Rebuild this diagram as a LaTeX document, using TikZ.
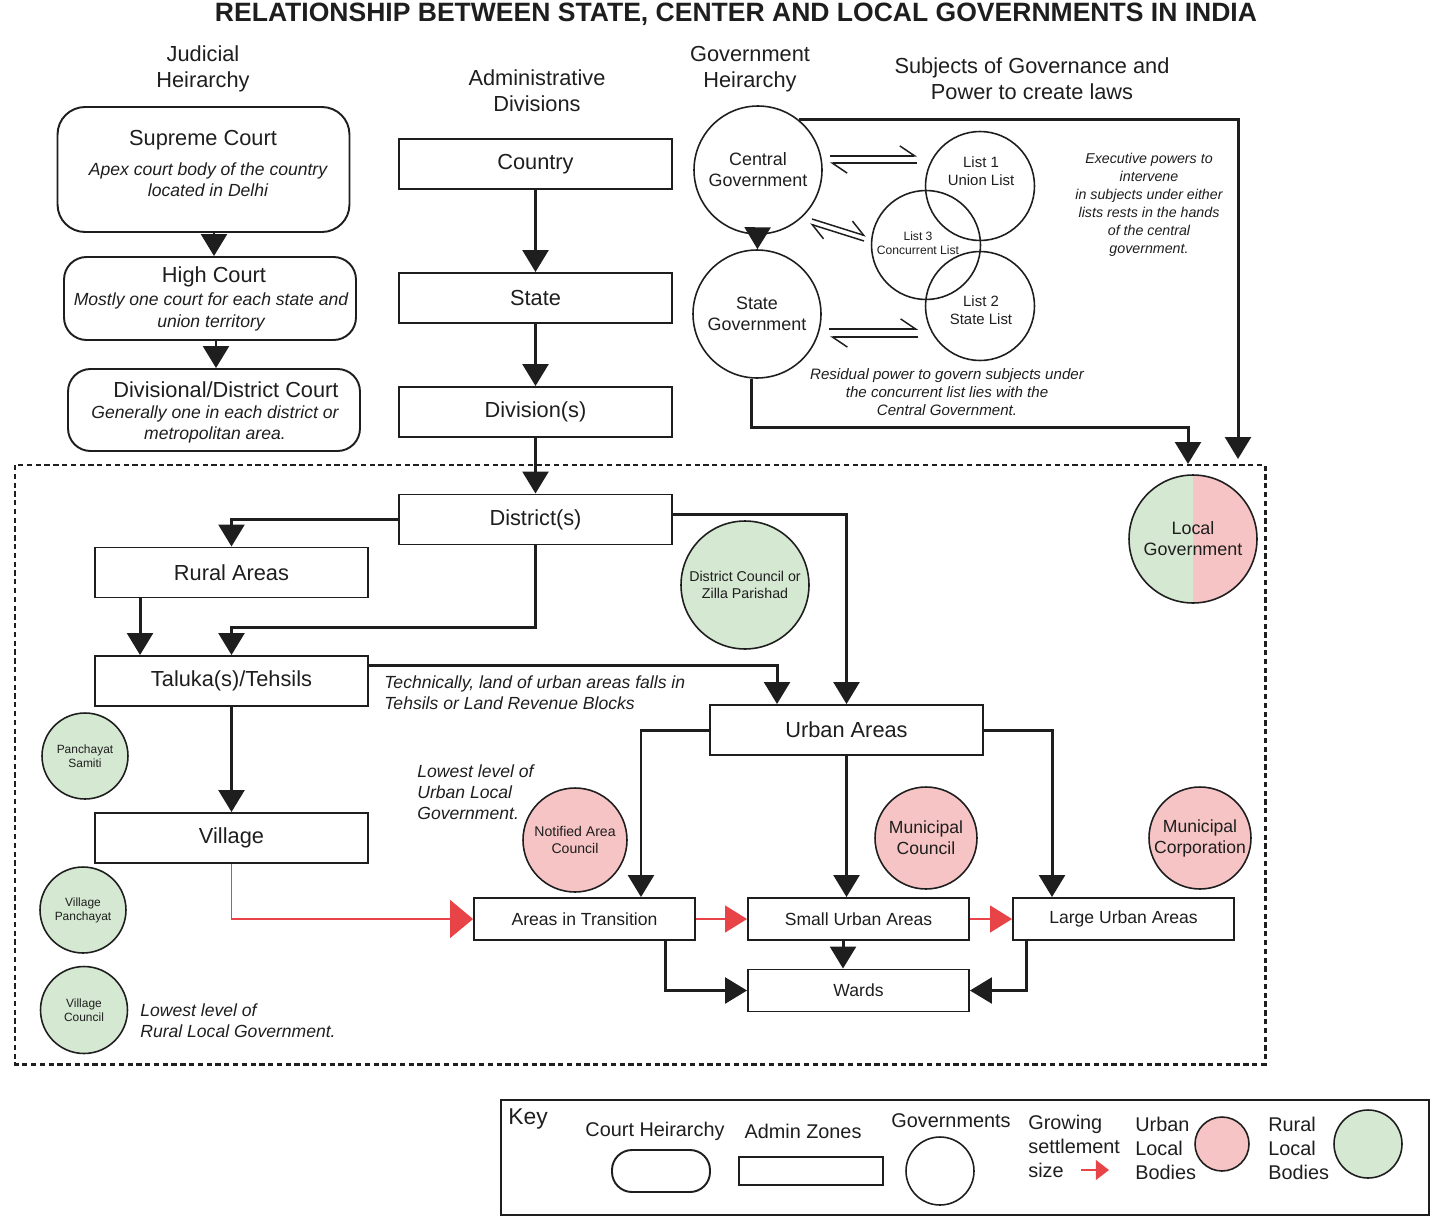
\documentclass[tikz,border=0pt]{standalone}
\usepackage{fontspec}
\setmainfont{Liberation Sans}
\usetikzlibrary{arrows.meta,calc}
\definecolor{ink}{RGB}{30,30,30}
\definecolor{upink}{RGB}{246,196,196}
\definecolor{rgreen}{RGB}{213,232,210}
\definecolor{growred}{RGB}{232,68,72}
\tikzset{
	hdr/.style = {align=center, font=\fontsize{12.4}{14.7}\selectfont},
	lbl/.style = {font=\fontsize{12.4}{14}\selectfont},
	note/.style = {align=center, font=\fontsize{10}{11.9}\selectfont\itshape},
	keytxt/.style = {inner sep=0pt, font=\fontsize{11.3}{13.6}\selectfont},
	listtxt/.style = {align=center, inner sep=0pt, font=\fontsize{8.5}{10.2}\selectfont},
	adminbox/.style = {draw=ink, line width=1.1pt, minimum width=5.46cm, minimum height=1cm, font=\fontsize{12.4}{14}\selectfont},
	zonebox/.style = {draw=ink, line width=1.1pt, minimum width=4.42cm, minimum height=0.84cm, font=\fontsize{10}{11}\selectfont},
	courtbox/.style = {draw=ink, line width=1.1pt, rounded corners=0.45cm, minimum width=5.84cm},
	govcirc/.style = {circle, draw=ink, line width=0.9pt, minimum size=2.56cm, inner sep=0pt, align=center, font=\fontsize{10.2}{11.9}\selectfont},
	listcirc/.style = {circle, draw=ink, line width=0.9pt, minimum size=2.18cm, inner sep=0pt},
	rlb/.style = {circle, draw=ink, line width=0.9pt, fill=rgreen, inner sep=0pt, align=center},
	ulb/.style = {circle, draw=ink, line width=0.9pt, fill=upink, inner sep=0pt, align=center},
	flow/.style = {draw=ink, line width=1.7pt, -{Triangle[width=14.7pt,length=12.5pt]}},
	growarrow/.style = {draw=growred, line width=0.85pt, -{Triangle[width=15.3pt,length=12.5pt]}},
	harp/.style = {draw=ink, line width=0.85pt, -{Straight Barb[harpoon,length=8.5pt,width=11.5pt]}}
}
\begin{document}
\begin{tikzpicture}[x=0.02cm, y=-0.02cm, text=ink]
	\useasboundingbox (0,0) rectangle (1430,1217);
	\node[font=\fontsize{15.1}{17}\selectfont\bfseries] (title) at (736,14) {RELATIONSHIP BETWEEN STATE, CENTER AND LOCAL GOVERNMENTS IN INDIA};
	\node[hdr] (hjud) at (203,69) {Judicial\\Heirarchy};
	\node[hdr] (hadm) at (537,91) {Administrative\\Divisions};
	\node[hdr] (hgov) at (750,69) {Government\\Heirarchy};
	\node[hdr] (hsub) at (1032,79) {Subjects of Governance and\\Power to create laws};
	% courts
	\node[courtbox, minimum height=2.5cm, rounded corners=0.55cm] (csup) at (203.5,169.5) {};
	\node[lbl] (csuptxt) at (203,140) {Supreme Court};
	\node[note] (csupnote) at (208,180) {Apex court body of the country\\located in Delhi};
	\node[courtbox, minimum height=1.66cm] (chigh) at (210,298.5) {};
	\node[lbl] (chightxt) at (214,277) {High Court};
	\node[note, font=\fontsize{10}{12.5}\selectfont\itshape] (chighnote) at (211,312) {Mostly one court for each state and\\union territory};
	\node[courtbox, minimum height=1.64cm] (cdist) at (214,410) {};
	\node[lbl] (cdisttxt) at (226,390) {Divisional/District Court};
	\node[note] (cdistnote) at (215,424.5) {Generally one in each district or\\metropolitan area.};
	\draw[flow] ([xshift=0.08cm]csup.south -| chigh.north) -- ([xshift=0.08cm]chigh.north);
	\draw[flow] ([xshift=0.04cm]chigh.south -| cdist.north) -- ([xshift=0.04cm]cdist.north);
	% admin zones
	\draw[ink, line width=1.7pt, dash pattern=on 3pt off 2pt] (15,465) rectangle (1265,1064);
	\node[adminbox] (country) at (535.5,164) {Country};
	\node[adminbox] (state) at (535.5,298) {State};
	\node[adminbox] (division) at (535.5,412) {Division(s)};
	\node[adminbox] (district) at (535.5,519.5) {District(s)};
	\node[adminbox] (rural) at (231.5,572.5) {Rural Areas};
	\node[adminbox] (taluka) at (231.5,681) {Taluka(s)/Tehsils};
	\node[adminbox] (village) at (231.5,838) {Village};
	\node[adminbox] (urban) at (846.5,730) {Urban Areas};
	\node[zonebox] (transit) at (584.5,919) {Areas in Transition};
	\node[zonebox] (smallurb) at (858.5,919) {Small Urban Areas};
	\node[zonebox] (largeurb) at (1123.5,919) {Large Urban Areas};
	\node[zonebox] (wards) at (858.5,990.5) {Wards};
	\draw[flow] (country) -- (state);
	\draw[flow] (state) -- (division);
	\draw[flow] (division) -- (district);
	\draw[flow] (district.west) -| (rural.north);
	\draw[flow] (district.south) -- ++(0,82) -| (taluka.north);
	\draw[flow] ([xshift=-1.83cm]rural.south) -- ([xshift=-1.83cm]taluka.north);
	\draw[flow] ([yshift=0.11cm]district.east) -| (urban.north);
	\draw[flow] ([yshift=0.32cm]taluka.east) -| ([xshift=-1.39cm]urban.north);
	\draw[flow] (taluka) -- (village);
	\draw[growarrow, -{Triangle[width=21.5pt,length=13pt]}] (village.south) |- (transit.west);
	\draw[flow] (urban.west) -| ([xshift=1.13cm]transit.north);
	\draw[flow] (urban.south) -- (urban.south |- smallurb.north);
	\draw[flow] (urban.east) -| ([xshift=-1.43cm]largeurb.north);
	\draw[growarrow] (transit) -- (smallurb);
	\draw[growarrow] (smallurb) -- (largeurb);
	\draw[flow] ([xshift=1.63cm]transit.south) |- (wards.west);
	\draw[flow] ([xshift=-0.31cm]smallurb.south) -- ([xshift=-0.31cm]wards.north);
	\draw[flow] ([xshift=-1.95cm]largeurb.south) |- (wards.east);
	% governments and lists
	\node[govcirc] (central) at (758,170) {Central\\Government};
	\node[govcirc] (stategov) at (757,314) {State\\Government};
	\node[listcirc] (list1) at (980,186) {};
	\node[listcirc] (list3) at (926,245) {};
	\node[listcirc] (list2) at (980,306) {};
	\node[listtxt] (list1txt) at (981,171) {List 1\\Union List};
	\node[listtxt, font=\fontsize{6.9}{8}\selectfont] (list3txt) at (918,243) {List 3\\Concurrent List};
	\node[listtxt] (list2txt) at (981,310) {List 2\\State List};
	\node[govcirc, fill=rgreen, path picture={\fill[upink] (path picture bounding box.north) rectangle (path picture bounding box.south east);}] (localgov) at (1193,539) {Local\\Government};
	\coordinate (cgin) at (1238,459);
	\coordinate (sgin) at (1188,464);
	\draw[flow] (central) -- (stategov);
	\draw[flow] (central.51) -| (cgin);
	\draw[flow] (stategov.265) -- ++(0,49) -| (sgin);
	\draw[harp] ([shift={(7,-14)}]central.east) -- ([shift={(-7.5,-30)}]list1.west);
	\draw[harp] ([shift={(-7.5,-23)}]list1.west) -- ([shift={(7,-7)}]central.east);
	\draw[harp] ([shift={(54,49)}]central.center) -- ([shift={(-60,-9)}]list3.center);
	\draw[harp] ([shift={(-62,-4)}]list3.center) -- ([shift={(52,54)}]central.center);
	\draw[harp] ([shift={(72,15)}]stategov.center) -- ([shift={(-62,23)}]list2.center);
	\draw[harp] ([shift={(-62,31)}]list2.center) -- ([shift={(73,23)}]stategov.center);
	\node[note, font=\fontsize{8.1}{10.2}\selectfont\itshape] (execnote) at (1149,205) {Executive powers to\\intervene\\in subjects under either\\lists rests in the hands\\of the central\\government.};
	\node[note, font=\fontsize{8.6}{10.2}\selectfont\itshape] (resnote) at (947,392) {Residual power to govern subjects under\\the concurrent list lies with the\\Central Government.};
	% local bodies
	\node[rlb, minimum size=2.56cm, font=\fontsize{8.1}{9.6}\selectfont] (zilla) at (745,585) {District Council or\\Zilla Parishad};
	\node[rlb, minimum size=1.72cm, font=\fontsize{6.8}{8}\selectfont] (samiti) at (85,756) {Panchayat\\Samiti};
	\node[rlb, minimum size=1.72cm, font=\fontsize{6.8}{8}\selectfont] (vpanch) at (83,910) {Village\\Panchayat};
	\node[rlb, minimum size=1.74cm, font=\fontsize{6.8}{8}\selectfont] (vcouncil) at (84,1010) {Village\\Council};
	\node[ulb, minimum size=2.08cm, font=\fontsize{8}{9.6}\selectfont] (notified) at (575,840) {Notified Area\\Council};
	\node[ulb, minimum size=2.04cm, font=\fontsize{10}{11.9}\selectfont] (municil) at (926,838) {Municipal\\Council};
	\node[ulb, minimum size=2.04cm, font=\fontsize{10}{11.9}\selectfont] (municorp) at (1200,838) {Municipal\\Corporation};
	\node[note, align=left, anchor=west, inner sep=0pt] (technote) at (384,692.5) {Technically, land of urban areas falls in\\Tehsils or Land Revenue Blocks};
	\node[note, align=left, anchor=west, inner sep=0pt] (urbnote) at (417,792.5) {Lowest level of\\Urban Local\\Government.};
	\node[note, align=left, anchor=west, inner sep=0pt] (rurnote) at (140,1021) {Lowest level of\\Rural Local Government.};
	% key
	\draw[ink, line width=0.9pt] (501,1100) rectangle (1429,1215);
	\node[keytxt, anchor=west, font=\fontsize{13}{15}\selectfont] (keyhd) at (508,1119) {Key};
	\node[keytxt] (kcourtlbl) at (655,1131) {Court Heirarchy};
	\node[keytxt] (kadminlbl) at (803,1131) {Admin Zones};
	\node[keytxt] (kgovlbl) at (951,1121) {Governments};
	\node[keytxt, anchor=west, align=left] (kgrowlbl) at (1028,1146) {Growing\\settlement\\size};
	\node[keytxt, anchor=west, align=left] (kurblbl) at (1135,1148) {Urban\\Local\\Bodies};
	\node[keytxt, anchor=west, align=left] (krurlbl) at (1268,1148) {Rural\\Local\\Bodies};
	\node[courtbox, minimum width=1.96cm, minimum height=0.84cm, rounded corners=0.4cm] (kcourt) at (661,1171) {};
	\node[draw=ink, line width=1.1pt, minimum width=2.88cm, minimum height=0.56cm] (kadmin) at (811,1171) {};
	\node[circle, draw=ink, line width=0.9pt, minimum size=1.36cm] (kgov) at (940,1171) {};
	\node[ulb, minimum size=1.08cm] (kurb) at (1222,1144) {};
	\node[rlb, minimum size=1.36cm] (krur) at (1368,1144) {};
	\coordinate (kg0) at (1081,1170);
	\coordinate (kg1) at (1109,1170);
	\draw[growarrow, -{Triangle[width=11.3pt,length=7.5pt]}] (kg0) -- (kg1);
\end{tikzpicture}
\end{document}
